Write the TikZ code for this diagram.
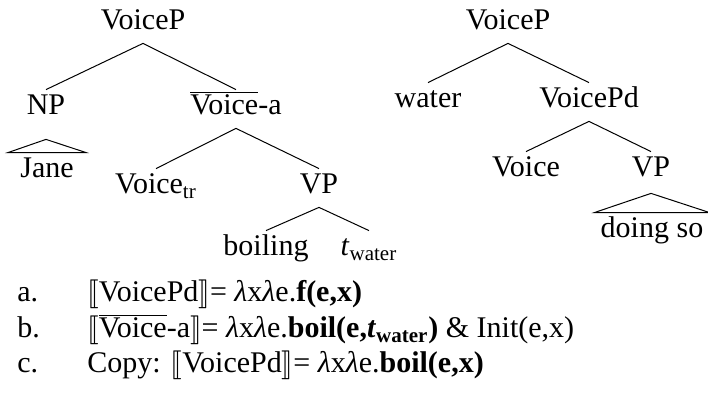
\documentclass[tikz,border=0pt]{standalone}
\usepackage{fontspec}
\setmainfont{Liberation Serif}
\usepackage{stmaryrd}
\usetikzlibrary{calc}

% denotation brackets and the barred label
\newcommand{\den}[1]{$\llbracket$#1$\rrbracket$}
\newcommand{\barvoice}{$\overline{\mbox{Voice}}$-a}
\newcommand{\lam}{\textit{λ}}

\begin{document}
\begin{tikzpicture}[
	x=0.5pt, y=-0.5pt,
	font=\fontsize{15}{18}\selectfont,
	cat/.style={
		anchor=base, inner xsep=1pt, inner ysep=3pt,
		text height=9.5pt, text depth=3.5pt
	},
	roof/.style={cat, inner xsep=6pt},
	branch/.style={line width=0.5pt},
	gloss/.style={anchor=base west, inner sep=0pt}
]
\useasboundingbox (0,0) rectangle (708,394);

% Left tree
\node[cat]  (vp1)  at (143, 30)  {VoiceP};
\node[cat]  (np)   at (46, 115)  {NP};
\node[cat]  (va)   at (236, 115) {\barvoice};
\node[roof] (jane) at (47, 178)  {Jane};
\node[cat]  (vtr)  at (156, 194) {Voice\textsubscript{tr}};
\node[cat]  (vpl)  at (319, 194) {VP};
\node[cat]  (boil) at (266, 256) {boiling};
\node[cat]  (tw)   at (369, 256) {\textit{t}\textsubscript{water}};

\draw[branch] (vp1.south) -- (np.north);
\draw[branch] (vp1.south) -- (va.north);
\draw[branch] (va.south) -- (vtr.north);
\draw[branch] (va.south) -- (vpl.north);
\draw[branch] (vpl.south) -- (boil.north);
\draw[branch] (vpl.south) -- (tw.north);

% NP roof
\draw[branch] (jane.north west) -- ($(np.south)+(0,-5.5pt)$) -- (jane.north east) -- cycle;

% Right tree
\node[cat]  (vp2)   at (508, 30)  {VoiceP};
\node[cat]  (water) at (428, 108) {water};
\node[cat]  (vpd)   at (589, 108) {VoicePd};
\node[cat]  (voice) at (526, 177) {Voice};
\node[cat]  (vpr)   at (651, 177) {VP};
\node[roof, inner xsep=3pt] (doing) at (652, 238) {doing so};

\draw[branch] (vp2.south) -- (water.north);
\draw[branch] (vp2.south) -- (vpd.north);
\draw[branch] (vpd.south) -- (voice.north);
\draw[branch] (vpd.south) -- (vpr.north);

% VP roof
\draw[branch] (doing.north west) -- ($(vpr.south)+(0,-1.5pt)$) -- (doing.north east) -- cycle;

% Denotations
\node[gloss] (la) at (17, 302) {a.};
\node[gloss] (ea) at (87, 302) {\den{VoicePd}= \lam x\lam e.\textbf{f(e,x)}};
\node[gloss] (lb) at (17, 338) {b.};
\node[gloss] (eb) at (87, 338) {\den{\barvoice}= \lam x\lam e.\textbf{boil(e,\textit{t}\textsubscript{water})} \& Init(e,x)};
\node[gloss] (lc) at (17, 373) {c.};
\node[gloss] (ec) at (87, 373) {Copy: \den{VoicePd}= \lam x\lam e.\textbf{boil(e,x)}};
\end{tikzpicture}
\end{document}
